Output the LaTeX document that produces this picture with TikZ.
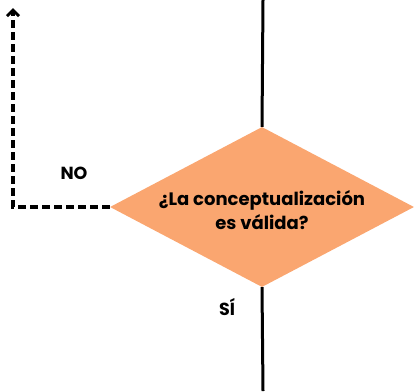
\documentclass[tikz,border=0pt]{standalone}
\usepackage{fontspec}
\setmainfont{Poppins}
\usetikzlibrary{shapes.geometric,arrows.meta,positioning}
\definecolor{mypeach}{RGB}{250,166,112}
\tikzstyle{decision}=[diamond,fill=mypeach,minimum width=304pt,minimum height=160pt,inner sep=0pt,aspect=1.9]
\tikzstyle{question}=[font=\bfseries\fontsize{18}{24}\selectfont,align=center,inner sep=0pt]
\tikzstyle{answer}=[font=\bfseries\fontsize{17.5}{20}\selectfont]
\tikzstyle{flow}=[line width=3pt]
\tikzstyle{back}=[line width=3.2pt,dash pattern=on 8pt off 4pt,-{Straight Barb[length=6pt,width=12pt,line width=3pt]}]

\begin{document}
\begin{tikzpicture}[x=1pt,y=-1pt]
\useasboundingbox (0,0) rectangle (414,391);
\node [decision] (valida) at (262,207) {};
\node [question] (pregunta) at ([yshift=-3pt]valida.center) {¿La conceptualización\\es válida?};
\coordinate (arriba) at (263,0);
\coordinate (abajo) at (263,391);
\coordinate (esquina) at (13,207);
\coordinate (retorno) at (13,8);
\draw [flow] (arriba) -- (valida.north);
\draw [flow] (valida.south) -- (abajo);
\draw [back] (valida.west) -- (esquina) -- (retorno);
\node [answer] (no) at (74,173) {NO};
\node [answer] (si) at (227,307) {SÍ};
\end{tikzpicture}
\end{document}
